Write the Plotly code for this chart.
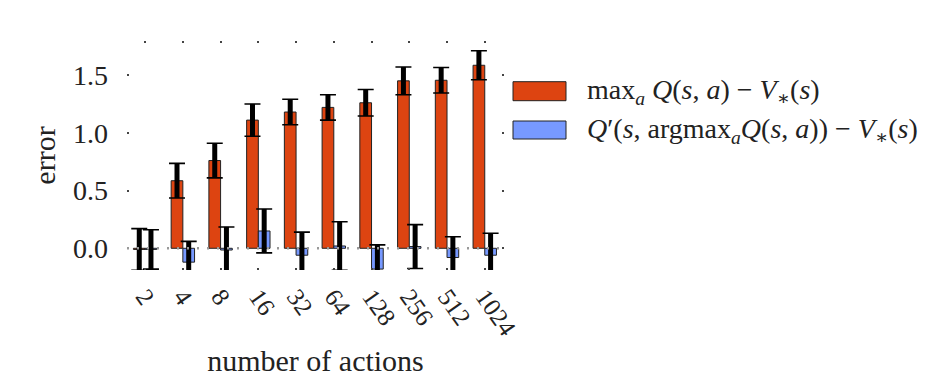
import plotly.graph_objects as go

categories = ["2", "4", "8", "16", "32", "64", "128", "256", "512", "1024"]
max_q_err = [-0.01, 0.585, 0.76, 1.11, 1.18, 1.22, 1.26, 1.45, 1.455, 1.585]
max_q_sd = [0.18, 0.15, 0.15, 0.14, 0.11, 0.11, 0.115, 0.12, 0.11, 0.125]
dbl_q_err = [-0.01, -0.12, -0.015, 0.15, -0.06, 0.02, -0.18, 0.015, -0.08, -0.06]
dbl_q_sd = [0.17, 0.18, 0.2, 0.19, 0.2, 0.21, 0.21, 0.19, 0.18, 0.19]

legend_labels = [
    "max<sub><i>a</i></sub> <i>Q</i>(<i>s</i>, <i>a</i>) − <i>V</i><sub>∗</sub>(<i>s</i>)",
    "<i>Q</i>′(<i>s</i>, argmax<sub><i>a</i></sub><i>Q</i>(<i>s</i>, <i>a</i>)) − <i>V</i><sub>∗</sub>(<i>s</i>)",
]
RED = "#DD4411"
BLUE = "#7799FF"
FONT = "Liberation Serif, Times New Roman, DejaVu Serif, serif"

xs = list(range(len(categories)))
fig = go.Figure()

series = [(max_q_err, max_q_sd, RED, -0.31), (dbl_q_err, dbl_q_sd, BLUE, 0.0)]
for vals, sd, col, off in series:
    fig.add_trace(go.Bar(
        x=xs, y=vals, offset=off, width=0.31,
        marker=dict(color=col, line=dict(color="#222222", width=1)),
        error_y=dict(type="data", array=sd, visible=True, color="#000000",
                     thickness=1.6, width=8),
        showlegend=False,
    ))
for vals, sd, col, off in series:
    fig.add_trace(go.Bar(
        x=xs, y=vals, offset=off, width=0.31,
        marker=dict(color="rgba(0,0,0,0)", line=dict(width=0)),
        error_y=dict(type="data", array=sd, visible=True, color="#000000",
                     thickness=5, width=0),
        showlegend=False, hoverinfo="skip",
    ))

# dotted zero line
fig.add_shape(type="line", xref="paper", yref="y", x0=0, x1=1, y0=0, y1=0,
              line=dict(color="#999999", width=2.5, dash="2px,8px"), layer="above")

# manual legend
sw = [(81.7, 100.7, RED), (121, 139, BLUE)]
L, R, T, B = 127, 504, 41, 270
def px(x):
    return (x - L) / (R - L)
def py(y):
    return (B - y) / (B - T)
for (y0, y1, col), lab in zip(sw, legend_labels):
    fig.add_shape(type="rect", xref="paper", yref="paper",
                  x0=px(513), x1=px(566), y0=py(y1), y1=py(y0),
                  fillcolor=col, line=dict(color="#222222", width=1))
    fig.add_annotation(xref="paper", yref="paper", x=px(585), y=py((y0 + y1) / 2),
                       text=lab, showarrow=False, xanchor="left", yanchor="middle",
                       font=dict(family=FONT, size=28, color="#222222"))

fig.update_layout(
    width=939, height=384,
    margin=dict(l=L, r=939 - R, t=T, b=384 - B, autoexpand=False),
    paper_bgcolor="white", plot_bgcolor="white",
    barmode="overlay",
    font=dict(family=FONT, color="#222222"),
    showlegend=False,
)
fig.update_xaxes(
    tickmode="array", tickvals=xs, ticktext=categories, tickangle=55,
    range=[-0.48, 9.51], showgrid=False, zeroline=False, showline=False,
    ticks="inside", ticklen=2, tickwidth=1.5, tickcolor="#444444", mirror="ticks",
    automargin=False, ticklabelstandoff=6,
    tickfont=dict(size=25, family=FONT, color="#222222"),
    title=dict(text="number of actions", font=dict(size=30, family=FONT, color="#222222"),
               standoff=10),
)
fig.update_yaxes(
    tickvals=[0, 0.5, 1.0, 1.5], ticktext=["0.0", "0.5", "1.0", "1.5"],
    range=[-0.188, 1.795], showgrid=False, zeroline=False, showline=False,
    ticks="inside", ticklen=2, tickwidth=1.5, tickcolor="#444444", mirror="ticks",
    automargin=False, ticklabelstandoff=18,
    tickfont=dict(size=28, family=FONT, color="#222222"),
    title=dict(text="error", font=dict(size=30, family=FONT, color="#222222"), standoff=8),
)

fig.write_html("out.html", post_script="document.body.style.margin='0px';",
               config={"displayModeBar": False})
